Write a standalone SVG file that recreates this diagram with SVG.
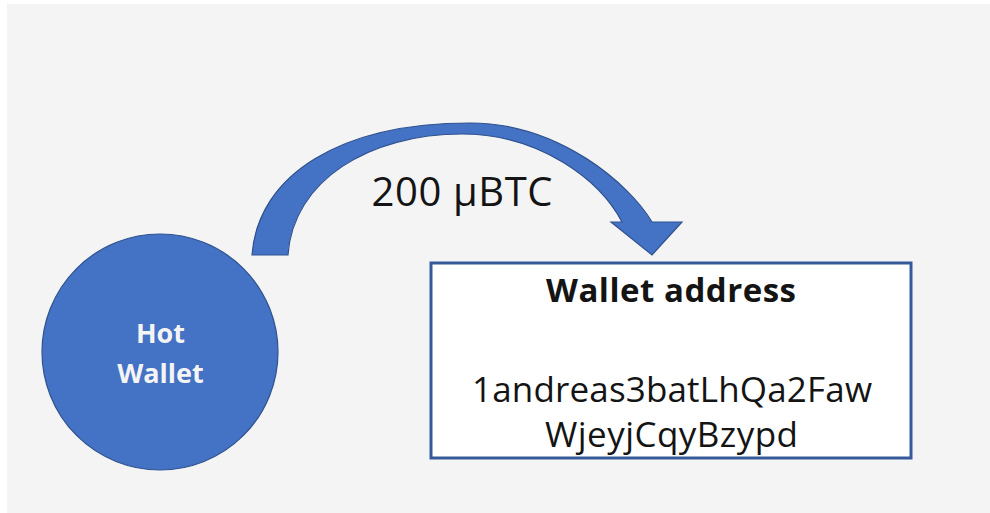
<svg xmlns="http://www.w3.org/2000/svg" width="990" height="513" viewBox="0 0 990 513">
  <style>
    .shape { fill: #4472c4; stroke: #2f528f; stroke-width: 1.2; }
    .txt { font-family: "Open Sans", "Liberation Sans", sans-serif; fill: #141414; text-anchor: middle; }
    .bold { font-weight: bold; }
    .light { fill: #f4f4f4; }
  </style>

  <!-- canvas -->
  <rect x="0" y="0" width="990" height="513" fill="#ffffff"/>
  <rect x="7" y="4" width="983" height="509" fill="#f4f4f4"/>

  <!-- transfer arrow -->
  <g id="connectors">
    <path id="transfer-arrow" class="shape"
          d="M252,255 C258,175 340,123 470,123 C560,123 630,185 652,222
             L682,222 L652,255 L611,222 L622,222
             C600,180 540,134 462,134 C370,134 293,180 288,255 Z"/>
    <text class="txt" x="462" y="206" font-size="40" textLength="181" lengthAdjust="spacing">200 µBTC</text>
  </g>

  <!-- source node -->
  <g id="hot-wallet">
    <circle class="shape" cx="160" cy="352" r="118"/>
    <text class="txt bold light" x="160.5" y="343" font-size="27">Hot</text>
    <text class="txt bold light" x="160.5" y="383" font-size="27">Wallet</text>
  </g>

  <!-- destination node -->
  <g id="wallet-address">
    <rect x="431" y="263" width="480" height="195" fill="#ffffff" stroke="#36599a" stroke-width="3"/>
    <text class="txt bold" x="671" y="302" font-size="33" textLength="250" lengthAdjust="spacing">Wallet address</text>
    <text class="txt" x="672" y="402" font-size="35" textLength="400" lengthAdjust="spacing">1andreas3batLhQa2Faw</text>
    <text class="txt" x="671.5" y="447" font-size="35" textLength="253" lengthAdjust="spacing">WjeyjCqyBzypd</text>
  </g>
</svg>
